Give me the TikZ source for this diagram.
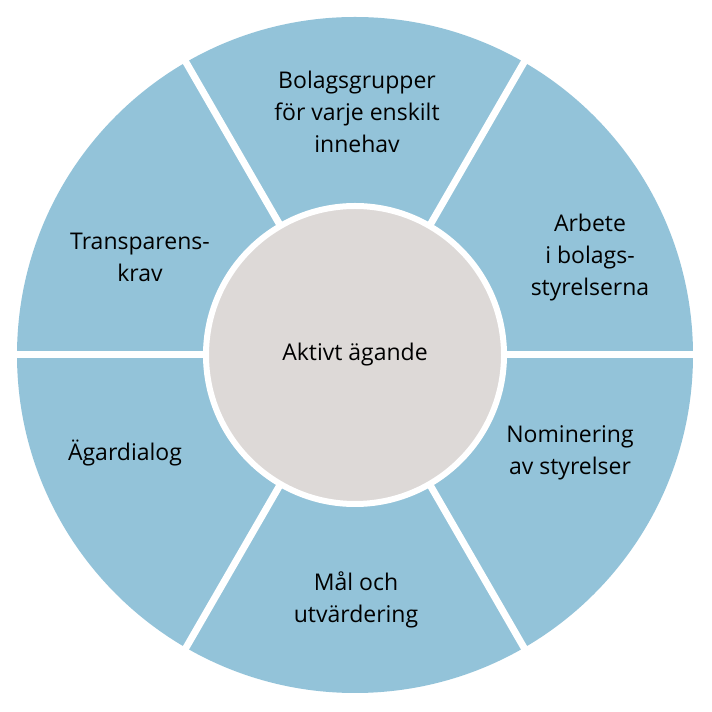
\documentclass[tikz,border=0pt]{standalone}
\usepackage{fontspec}
\setmainfont{Open Sans}
\definecolor{ring}{HTML}{93C3D9}
\definecolor{hub}{HTML}{DDD9D7}
\tikzset{lbl/.style={align=center,font=\fontsize{23}{32}\selectfont,text=black}}
\begin{document}
\begin{tikzpicture}[x=1pt,y=1pt]
\useasboundingbox (0,0) rectangle (712,712);
\coordinate (c) at (355,357);
\fill[ring] (c) circle (338);
\foreach \a in {0,60,120,180,240,300}
  \draw[white,line width=7] (c) -- ++(\a:345);
\fill[hub,draw=white,line width=6] (c) circle (149);
\node[lbl] (center) at (c) {Aktivt ägande};
\node[lbl] (s1) at (357,600) {Bolagsgrupper\\för varje enskilt\\innehav};
\node[lbl] (s2) at (590,454) {Arbete\\i bolags-\\styrelserna};
\node[lbl] (s3) at (570,259) {Nominering\\av styrelser};
\node[lbl] (s4) at (356,112) {Mål och\\utvärdering};
\node[lbl] (s5) at (125,259) {Ägardialog};
\node[lbl] (s6) at (140,455) {Transparens-\\krav};
\end{tikzpicture}
\end{document}
